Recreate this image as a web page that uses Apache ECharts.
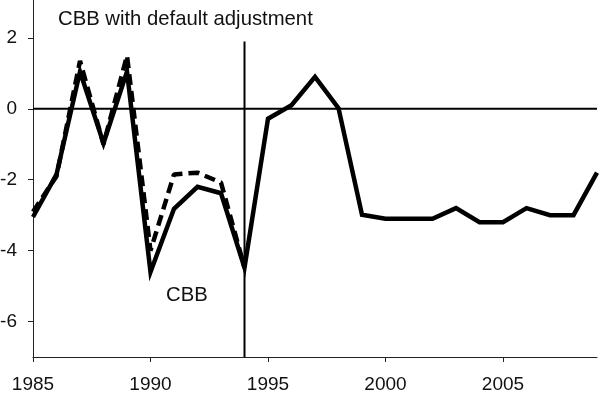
<!DOCTYPE html>
<html>
<head>
<meta charset="utf-8">
<script src="https://cdn.jsdelivr.net/npm/echarts@6/dist/echarts.min.js"></script>
<style>html,body{margin:0;padding:0;background:#fff}#c{width:600px;height:394px}</style>
</head>
<body>
<div id="c"></div>
<script>
const years = [1985,1986,1987,1988,1989,1990,1991,1992,1993,1994,1995,1996,1997,1998,1999,2000,2001,2002,2003,2004,2005,2006,2007,2008,2009];
const cbb = [-3.05,-1.85,1.05,-0.97,1.05,-4.6,-2.82,-2.2,-2.38,-4.48,-0.28,0.1,0.9,0.02,-2.99,-3.1,-3.1,-3.1,-2.8,-3.2,-3.2,-2.8,-3.0,-3.0,-1.8];
const adjYears = [1985,1986,1987,1988,1989,1990,1991,1992,1993,1994];
const adjusted = [-2.9,-1.9,1.35,-1.0,1.5,-4.0,-1.85,-1.8,-2.08,-4.48];
const xTicks = [1985,1990,1995,2000,2005];
const yTicks = [-6,-4,-2,0,2];
const vLineYear = 1994;
const titleText = 'CBB with default adjustment';
const seriesLabel = 'CBB';

const font = 'Liberation Sans, Arial, Helvetica, sans-serif';
const chart = echarts.init(document.getElementById('c'));
chart.setOption({
  animation: false,
  backgroundColor: '#fff',
  grid: {left: 33, right: 3, top: 0, bottom: 37, containLabel: false, outerBoundsMode: 'none'},
  xAxis: {
    type: 'value', min: 1985, max: 2009,
    axisLine: {show: true, onZero: false, lineStyle: {color: '#222', width: 1}},
    axisTick: {show: true, length: 5, customValues: xTicks, lineStyle: {color: '#222'}},
    axisLabel: {customValues: xTicks, margin: 18, fontSize: 19, fontFamily: font, color: '#111', formatter: v => String(v), hideOverlap: false},
    splitLine: {show: false}
  },
  yAxis: {
    type: 'value', min: -7, max: 3.07,
    axisLine: {show: true, onZero: false, lineStyle: {color: '#222', width: 1}},
    axisTick: {show: true, length: 5, customValues: yTicks, lineStyle: {color: '#222'}},
    axisLabel: {customValues: yTicks, margin: 16, fontSize: 19, fontFamily: font, color: '#111', formatter: v => String(v)},
    splitLine: {show: false}
  },
  graphic: [
    {type: 'text', left: 58, top: 9, style: {text: titleText, fontSize: 20.3, fontFamily: font, fill: '#111'}},
    {type: 'text', left: 166, top: 285, style: {text: seriesLabel, fontSize: 20.3, fontFamily: font, fill: '#111'}}
  ],
  series: [
    {type: 'line', data: [[1985,0],[2009,0]], symbol: 'none', silent: true, lineStyle: {color: '#000', width: 2}, z: 1},
    {type: 'line', data: [[vLineYear,-7],[vLineYear,1.9]], symbol: 'none', silent: true, lineStyle: {color: '#000', width: 2}, z: 1},
    {type: 'line', data: years.map((y,i)=>[y,cbb[i]]), symbol: 'none', lineStyle: {color: '#000', width: 4.5, join: 'miter'}, z: 3},
    {type: 'line', data: adjYears.map((y,i)=>[y,adjusted[i]]), symbol: 'none', lineStyle: {color: '#000', width: 4.5, type: [11,6]}, z: 2}
  ]
});
</script>
</body>
</html>
